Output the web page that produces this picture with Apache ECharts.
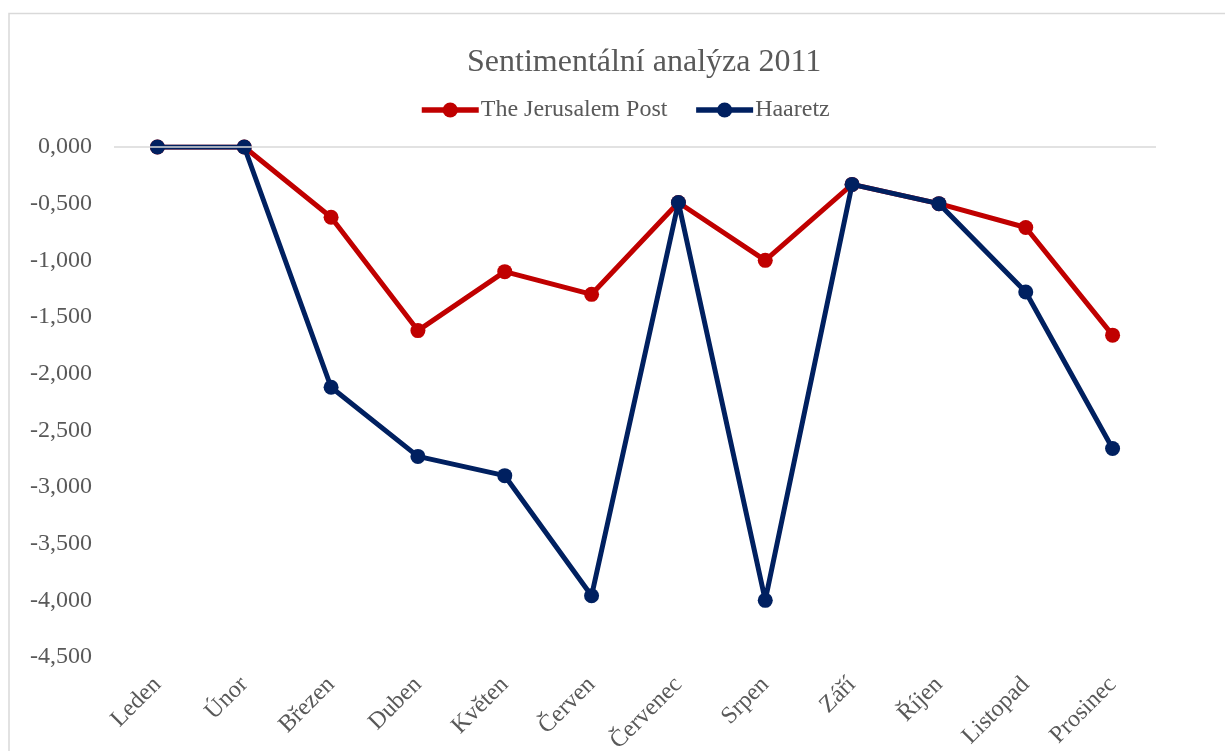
<!DOCTYPE html>
<html>
<head>
<meta charset="utf-8">
<script src="https://cdn.jsdelivr.net/npm/echarts@6/dist/echarts.min.js"></script>
<style>
  html, body { margin: 0; padding: 0; background: #fff; }
  #chart { width: 1225px; height: 751px; }
</style>
</head>
<body>
<div id="chart"></div>
<script>
// mesice
var months = ['Leden', 'Únor', 'Březen', 'Duben', 'Květen', 'Červen',
              'Červenec', 'Srpen', 'Září', 'Říjen', 'Listopad', 'Prosinec'];
// hodnoty
var jerusalemPost = [0, 0, -0.62, -1.62, -1.10, -1.30, -0.49, -1.00, -0.33, -0.50, -0.71, -1.66];
var haaretz = [0, 0, -2.12, -2.73, -2.90, -3.96, -0.49, -4.00, -0.33, -0.50, -1.28, -2.66];
var seriesNames = ['The Jerusalem Post', 'Haaretz'];

var font = '"Liberation Serif", "Times New Roman", serif';
var chart = echarts.init(document.getElementById('chart'));

function lineSeries(name, data, color) {
    return {
        name: name,
        type: 'line',
        data: data,
        symbol: 'circle',
        symbolSize: 15,
        lineStyle: { color: color, width: 5 },
        itemStyle: { color: color },
        emphasis: { disabled: true }
    };
}

var s1 = lineSeries(seriesNames[0], jerusalemPost, '#C00000');
s1.markLine = {
    silent: true,
    symbol: 'none',
    label: { show: false },
    lineStyle: { color: '#d9d9d9', type: 'solid', width: 1.5 },
    data: [{ yAxis: 0 }]
};
s1.z = 2;
var s2 = lineSeries(seriesNames[1], haaretz, '#002060');
s2.z = 3;

chart.setOption({
    animation: false,
    backgroundColor: '#fff',
    graphic: [{
        type: 'rect',
        shape: { x: 9, y: 13.5, width: 1400, height: 900 },
        style: { fill: 'none', stroke: '#d9d9d9', lineWidth: 1.5 },
        silent: true
    }],
    title: {
        text: 'Sentimentální analýza 2011',
        left: 462,
        top: 42,
        textStyle: { fontFamily: font, fontSize: 32, fontWeight: 'normal', color: '#595959' }
    },
    legend: {
        data: seriesNames,
        top: 93,
        left: 414,
        itemWidth: 57,
        itemHeight: 19,
        itemGap: 26,
        lineStyle: { width: 5.5 },
        textStyle: { fontFamily: font, fontSize: 24, color: '#595959', padding: [0, 0, 0, -3] }
    },
    grid: { left: 114, right: 69, top: 147, bottom: 94, containLabel: false, outerBoundsMode: 'none' },
    xAxis: {
        type: 'category',
        data: months,
        boundaryGap: true,
        axisLine: { show: false },
        axisTick: { show: false },
        axisLabel: {
            rotate: 45,
            margin: 24,
            interval: 0,
            fontFamily: font,
            fontSize: 24,
            color: '#595959'
        }
    },
    yAxis: {
        type: 'value',
        min: -4.5,
        max: 0,
        interval: 0.5,
        axisLine: { show: false },
        axisTick: { show: false },
        splitLine: { show: false },
        axisLabel: {
            margin: 22,
            fontFamily: font,
            fontSize: 24,
            color: '#595959',
            formatter: function (v) { return v.toFixed(3).replace('.', ','); }
        }
    },
    series: [s1, s2]
});
</script>
</body>
</html>
